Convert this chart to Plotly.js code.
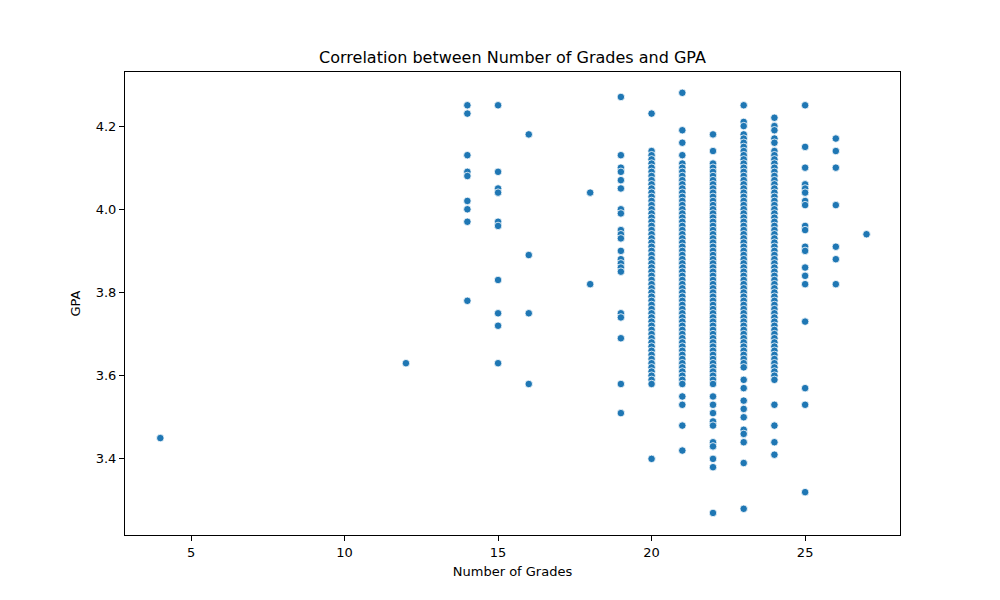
<!DOCTYPE html>
<html>
<head>
<meta charset="utf-8">
<script src="https://cdn.plot.ly/plotly-3.0.1.min.js"></script>
<style>body{margin:0;background:#fff}#chart{width:1000px;height:600px}</style>
</head>
<body>
<div id="chart"></div>
<script>
// GPA values, one list per number of grades
const gpa4 = [3.45];
const gpa12 = [3.63];
const gpa14 = [4.25,4.23,4.13,4.09,4.08,4.02,4.00,3.97,3.78];
const gpa15 = [4.25,4.09,4.05,4.04,3.97,3.96,3.83,3.75,3.72,3.63];
const gpa16 = [4.18,3.89,3.75,3.58];
const gpa18 = [4.04,3.82];
const gpa19 = [4.27,4.13,4.10,4.09,4.07,4.05,4.00,3.99,3.95,3.94,3.93,3.90,3.88,3.87,3.86,3.85,3.75,3.74,3.69,3.58,3.51];
const gpa20 = [4.23,4.14,4.13,4.12,4.11,4.10,4.09,4.08,4.07,4.06,4.05,4.04,4.03,4.02,4.01,4.00,3.99,3.98,3.97,3.96,3.95,3.94,3.93,3.92,3.91,3.90,3.89,3.88,3.87,3.86,3.85,3.84,3.83,3.82,3.81,3.80,3.79,3.78,3.77,3.76,3.75,3.74,3.73,3.72,3.71,3.70,3.69,3.68,3.67,3.66,3.65,3.64,3.63,3.62,3.61,3.60,3.59,3.58,3.40];
const gpa21 = [4.28,4.19,4.16,4.13,4.11,4.10,4.09,4.08,4.07,4.06,4.05,4.04,4.03,4.02,4.01,4.00,3.99,3.98,3.97,3.96,3.95,3.94,3.93,3.92,3.91,3.90,3.89,3.88,3.87,3.86,3.85,3.84,3.83,3.82,3.81,3.80,3.79,3.78,3.77,3.76,3.75,3.74,3.73,3.72,3.71,3.70,3.69,3.68,3.67,3.66,3.65,3.64,3.63,3.62,3.61,3.60,3.59,3.58,3.55,3.53,3.48,3.42];
const gpa22 = [4.18,4.14,4.11,4.10,4.09,4.08,4.07,4.06,4.05,4.04,4.03,4.02,4.01,4.00,3.99,3.98,3.97,3.96,3.95,3.94,3.93,3.92,3.91,3.90,3.89,3.88,3.87,3.86,3.85,3.84,3.83,3.82,3.81,3.80,3.79,3.78,3.77,3.76,3.75,3.74,3.73,3.72,3.71,3.70,3.69,3.68,3.67,3.66,3.65,3.64,3.63,3.62,3.61,3.60,3.59,3.58,3.55,3.53,3.51,3.49,3.48,3.44,3.43,3.40,3.38,3.27];
const gpa23 = [4.25,4.21,4.20,4.18,4.17,4.16,4.15,4.14,4.13,4.12,4.11,4.10,4.09,4.08,4.07,4.06,4.05,4.04,4.03,4.02,4.01,4.00,3.99,3.98,3.97,3.96,3.95,3.94,3.93,3.92,3.91,3.90,3.89,3.88,3.87,3.86,3.85,3.84,3.83,3.82,3.81,3.80,3.79,3.78,3.77,3.76,3.75,3.74,3.73,3.72,3.71,3.70,3.69,3.68,3.67,3.66,3.65,3.64,3.63,3.62,3.59,3.57,3.54,3.52,3.50,3.47,3.46,3.44,3.39,3.28];
const gpa24 = [4.22,4.20,4.19,4.17,4.16,4.14,4.13,4.12,4.11,4.10,4.09,4.08,4.07,4.06,4.05,4.04,4.03,4.02,4.01,4.00,3.99,3.98,3.97,3.96,3.95,3.94,3.93,3.92,3.91,3.90,3.89,3.88,3.87,3.86,3.85,3.84,3.83,3.82,3.81,3.80,3.79,3.78,3.77,3.76,3.75,3.74,3.73,3.72,3.71,3.70,3.69,3.68,3.67,3.66,3.65,3.64,3.63,3.62,3.61,3.60,3.59,3.53,3.48,3.44,3.41];
const gpa25 = [4.25,4.15,4.10,4.06,4.05,4.04,4.02,4.01,3.96,3.95,3.91,3.90,3.86,3.84,3.82,3.73,3.57,3.53,3.32];
const gpa26 = [4.17,4.14,4.10,4.01,3.91,3.88,3.82];
const gpa27 = [3.94];

const gradeCounts = [4,12,14,15,16,18,19,20,21,22,23,24,25,26,27];
const gpaLists = [gpa4,gpa12,gpa14,gpa15,gpa16,gpa18,gpa19,gpa20,gpa21,gpa22,gpa23,gpa24,gpa25,gpa26,gpa27];

const xs = [], ys = [];
gradeCounts.forEach((n,i)=>{
  gpaLists[i].forEach(g=>{ xs.push(n); ys.push(g); });
});

const font = {family:'DejaVu Sans, sans-serif', size:13, color:'#000'};

Plotly.newPlot('chart', [{
  x: xs, y: ys, type:'scatter', mode:'markers',
  marker:{color:'#1f77b4', size:7.5, line:{color:'#fff', width:0.8}},
  hoverinfo:'x+y'
}], {
  width:1000, height:600,
  margin:{l:125, r:100, t:72, b:65},
  paper_bgcolor:'#fff', plot_bgcolor:'#fff',
  font: font,
  showlegend:false,
  title:{text:'Correlation between Number of Grades and GPA', font:{family:font.family, size:16, color:'#000'}, x:0.5125, xanchor:'center', y:0.905, yanchor:'middle'},
  xaxis:{range:[2.85,28.09], tickvals:[5,10,15,20,25], showgrid:false, zeroline:false,
    showline:true, linecolor:'#000', linewidth:1, mirror:true,
    ticks:'outside', ticklen:5, tickcolor:'#000',
    title:{text:'Number of Grades', font:font, standoff:8}},
  yaxis:{range:[3.217,4.33], tickvals:[3.4,3.6,3.8,4.0,4.2], ticktext:['3.4','3.6','3.8','4.0','4.2'],
    showgrid:false, zeroline:false,
    showline:true, linecolor:'#000', linewidth:1, mirror:true,
    ticks:'outside', ticklen:5, tickcolor:'#000',
    title:{text:'GPA', font:font, standoff:12}}
}, {displayModeBar:false});
</script>
</body>
</html>
